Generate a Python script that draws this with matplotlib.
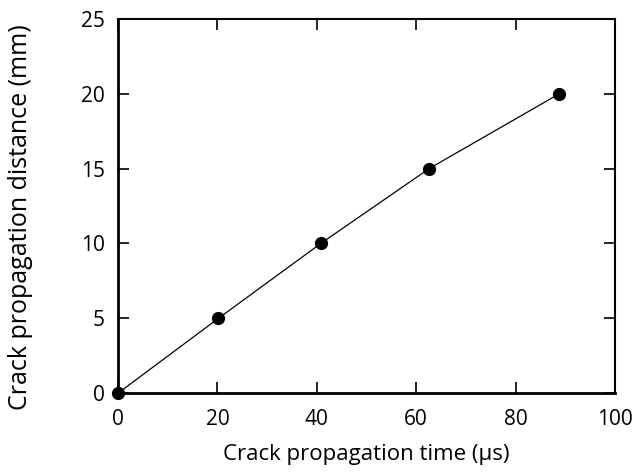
import matplotlib
matplotlib.use("Agg")
import matplotlib.pyplot as plt

# crack propagation data
time_us = [0, 20.2, 40.8, 62.6, 88.8]
distance_mm = [0, 5, 10, 15, 20]

xticks = [0, 20, 40, 60, 80, 100]
yticks = [0, 5, 10, 15, 20, 25]

plt.rcParams['font.family'] = ['Open Sans', 'DejaVu Sans']

fig = plt.figure(figsize=(6.38, 4.72), dpi=100)
ax = fig.add_axes([0.185, 0.167, 0.779, 0.793])

ax.plot(time_us, distance_mm, color='black', lw=0.9,
        marker='o', markersize=8.5, clip_on=False, zorder=3)

ax.set_xlim(0, 100)
ax.set_ylim(0, 25)
ax.set_xticks(xticks)
ax.set_yticks(yticks)

ax.tick_params(direction='in', length=8, width=1.2, labelsize=15,
               top=True, right=True, pad=9.5)
ax.tick_params(axis='x', pad=11.5)
for side in ['left', 'bottom']:
    ax.spines[side].set_linewidth(2)
for side in ['top', 'right']:
    ax.spines[side].set_linewidth(1.5)

ax.set_xlabel('Crack propagation time (\u03bcs)', fontsize=16, labelpad=10)
ax.set_ylabel('Crack propagation distance (mm)', fontsize=18)
ax.yaxis.set_label_coords(-0.171, 0.471)

fig.savefig('out.png', dpi=100)
